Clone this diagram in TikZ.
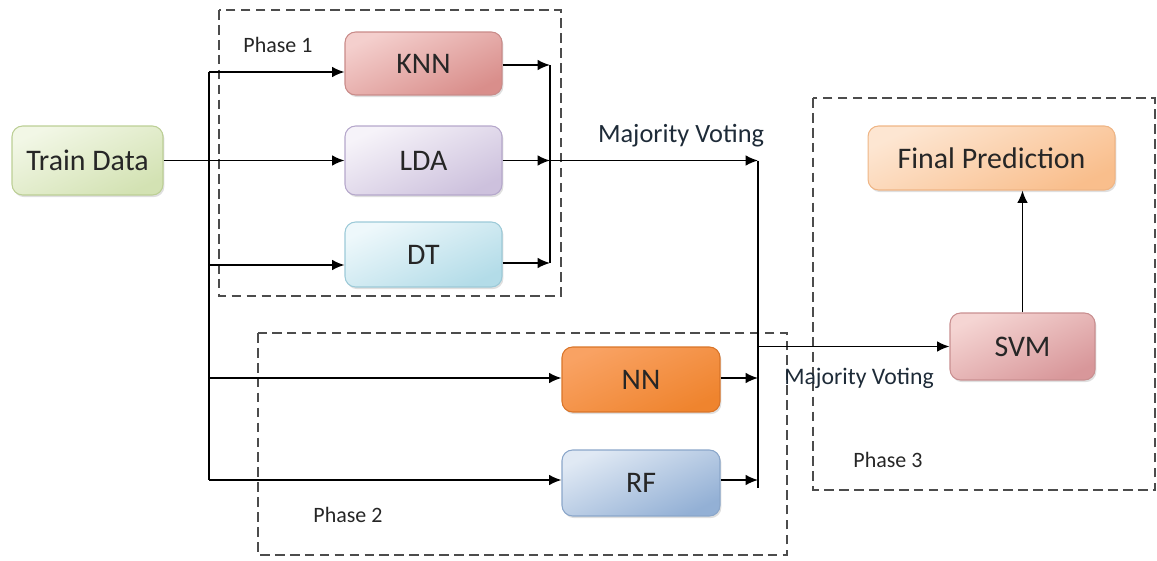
\documentclass[tikz,border=0pt]{standalone}
\usepackage{fontspec}
\setmainfont{Carlito}
\usepackage{xcolor}
\usepackage{tikz}
\usetikzlibrary{arrows.meta, positioning, calc, shadows, backgrounds}

\definecolor{traintop}{HTML}{F2F7E6}
\definecolor{trainbot}{HTML}{D3E2B3}
\definecolor{trainline}{HTML}{BCCF95}
\definecolor{knntop}{HTML}{F4CFCD}
\definecolor{knnbot}{HTML}{D98E8B}
\definecolor{knnline}{HTML}{C98B89}
\definecolor{ldatop}{HTML}{F6F3F9}
\definecolor{ldabot}{HTML}{CDC1DD}
\definecolor{ldaline}{HTML}{B5A7CB}
\definecolor{dttop}{HTML}{EEF8FB}
\definecolor{dtbot}{HTML}{B3DCE8}
\definecolor{dtline}{HTML}{9CCAD8}
\definecolor{nntop}{HTML}{F9A263}
\definecolor{nnbot}{HTML}{EF842E}
\definecolor{nnline}{HTML}{D97428}
\definecolor{rftop}{HTML}{E0E9F4}
\definecolor{rfbot}{HTML}{93B0D5}
\definecolor{rfline}{HTML}{8AA6CA}
\definecolor{svmtop}{HTML}{F5D5D3}
\definecolor{svmbot}{HTML}{D8979A}
\definecolor{svmline}{HTML}{C98F90}
\definecolor{finaltop}{HTML}{FDE6D2}
\definecolor{finalbot}{HTML}{F9BE8C}
\definecolor{finalline}{HTML}{EFB585}
\definecolor{labeltext}{HTML}{1E2B38}

\tikzstyle{model} = [rectangle, rounded corners=6pt, minimum width=3.14cm, minimum height=1.3cm, text centered, line width=0.6pt, text=black!85, font=\fontsize{17}{20}\selectfont, drop shadow={shadow xshift=0.8pt, shadow yshift=-1.2pt, opacity=0.25}]
\tikzstyle{arrow} = [line width=0.9pt, ->, >={Latex[length=7pt, width=6pt]}]
\tikzstyle{line} = [line width=0.9pt]
\tikzstyle{phase} = [draw=black!70, line width=0.8pt, dash pattern=on 5.5pt off 3pt]
\tikzstyle{caption} = [text=labeltext, font=\fontsize{15}{18}\selectfont]
\tikzstyle{phaselabel} = [text=black!85, font=\fontsize{12.5}{15}\selectfont]
\tikzset{tint/.style n args={3}{draw=#3, top color=#1, bottom color=#2, shading angle=25}}

\begin{document}
\begin{tikzpicture}[x=0.02cm, y=-0.02cm]
\useasboundingbox (0,0) rectangle (1157,561);

% Phase boxes
\draw[phase] (219,10) rectangle (561,296);
\draw[phase] (258,333) rectangle (787,555);
\draw[phase] (813,98) rectangle (1155,490);

\node (phase1) [phaselabel] at (278,45) {Phase 1};
\node (phase2) [phaselabel] at (348,515) {Phase 2};
\node (phase3) [phaselabel] at (888,460) {Phase 3};

% Input
\node (train) [model, tint={traintop}{trainbot}{trainline}, minimum width=3.02cm, minimum height=1.38cm] at (87.5,160.5) {Train Data};

% Phase 1 models
\node (knn) [model, tint={knntop}{knnbot}{knnline}, minimum height=1.26cm] at (423.5,63.5) {KNN};
\node (lda) [model, tint={ldatop}{ldabot}{ldaline}, minimum height=1.38cm] at (423.5,160.5) {LDA};
\node (dt) [model, tint={dttop}{dtbot}{dtline}] at (423.5,254.5) {DT};

% Phase 2 models
\node (nn) [model, tint={nntop}{nnbot}{nnline}, minimum width=3.16cm] at (641,379.5) {NN};
\node (rf) [model, tint={rftop}{rfbot}{rfline}, minimum width=3.16cm, minimum height=1.32cm] at (641,483) {RF};

% Phase 3
\node (svm) [model, tint={svmtop}{svmbot}{svmline}, minimum width=2.9cm, minimum height=1.34cm] at (1022.5,346.5) {SVM};
\node (final) [model, tint={finaltop}{finalbot}{finalline}, minimum width=4.94cm, minimum height=1.28cm] at (991.5,158) {Final Prediction};

% Split points
\coordinate (s1) at (209,72);
\coordinate (s3) at (209,265);
\coordinate (s4) at (209,378);
\coordinate (s5) at (209,480);

% Merge points
\coordinate (m1) at (550,65);
\coordinate (m2) at (550,160.5);
\coordinate (m3) at (550,263);
\coordinate (v1) at (758,160.5);
\coordinate (v2) at (758,488);
\coordinate (n1) at (758,378);
\coordinate (r1) at (758,480);
\coordinate (j) at (758,346.5);

% Arrows
\draw [arrow] (train) -- (lda);
\draw [line] (s1) -- (s5);
\draw [arrow] (s1) -- (s1 -| knn.west);
\draw [arrow] (s3) -- (s3 -| dt.west);
\draw [arrow] (s4) -- (s4 -| nn.west);
\draw [arrow] (s5) -- (s5 -| rf.west);

\draw [arrow] (knn.east |- m1) -- (m1);
\draw [arrow] (lda) -- (m2);
\draw [arrow] (dt.east |- m3) -- (m3);
\draw [line] (m1) -- (m3);
\draw [arrow] (m2) -- node[caption, above=4pt, pos=0.63] {Majority Voting} (v1);
\draw [line] (v1) -- (v2);

\draw [arrow] (nn.east |- n1) -- (n1);
\draw [arrow] (rf.east |- r1) -- (r1);
\draw [arrow] (j) -- (svm);
\node (vote2) [caption, font=\fontsize{13.5}{16}\selectfont] at (859,378) {Majority Voting};

\draw [arrow] (svm.north) -- (svm.north |- final.south);

\end{tikzpicture}
\end{document}
